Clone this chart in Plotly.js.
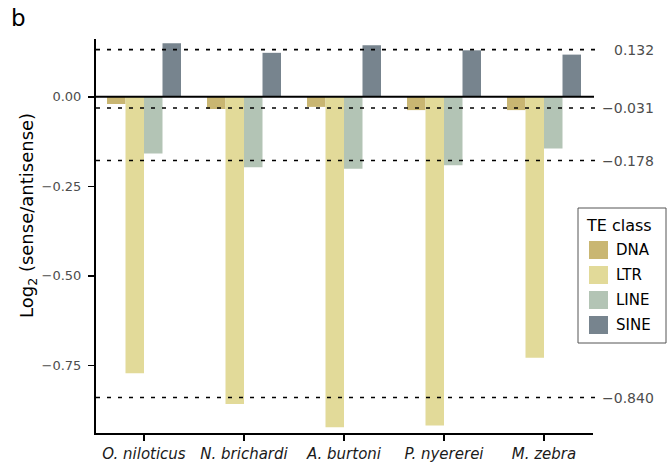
<!DOCTYPE html>
<html>
<head>
<meta charset="utf-8">
<script src="https://cdn.plot.ly/plotly-3.0.1.min.js"></script>
<style>
html,body{margin:0;padding:0;background:#fff;}
#chart{width:667px;height:468px;}
</style>
</head>
<body>
<div id="chart"></div>
<script>
// ---- data ----
const species = ["O. niloticus", "N. brichardi", "A. burtoni", "P. nyererei", "M. zebra"];
const teClasses = ["DNA", "LTR", "LINE", "SINE"];
const dnaValues  = [-0.020, -0.034, -0.028, -0.037, -0.037];
const ltrValues  = [-0.772, -0.858, -0.923, -0.918, -0.729];
const lineValues = [-0.158, -0.197, -0.201, -0.191, -0.144];
const sineValues = [0.150, 0.123, 0.144, 0.130, 0.118];
const meanValues = [0.132, -0.031, -0.178, -0.840];
const yTickValues = [0, -0.25, -0.5, -0.75];

const seriesValues = [dnaValues, ltrValues, lineValues, sineValues];
const classColors = ["#c9b672", "#e2da99", "#b3c4b5", "#77848e"];

const FONT = "DejaVu Sans, sans-serif";
const fmtMinus = (v, d) => (v < 0 ? "\u2212" : "") + Math.abs(v).toFixed(d);

// panel geometry (px) used to convert legend placement to paper coords
const M = {l: 96, r: 74, t: 39, b: 35};
const W = 667, H = 468;
const PW = W - M.l - M.r, PH = H - M.t - M.b;
const px = x => (x - M.l) / PW;
const py = y => (H - M.b - y) / PH;

const traces = teClasses.map((cls, i) => ({
  type: "bar",
  name: cls,
  x: species,
  y: seriesValues[i],
  marker: {color: classColors[i], line: {width: 0}},
  showlegend: false,
  hoverinfo: "x+y+name"
}));

const shapes = [];
// zero line
shapes.push({type: "line", xref: "paper", yref: "y", x0: 0, x1: 1.002, y0: 0, y1: 0,
  line: {color: "#000", width: 2}, layer: "above"});
meanValues.forEach(v => {
  shapes.push({type: "line", xref: "paper", yref: "y", x0: 0, x1: 1.004, y0: v, y1: v,
    line: {color: "#000", width: 1.6, dash: "4px,7px"}, layer: "above"});
});

const annotations = meanValues.map(v => ({
  xref: "paper", yref: "y", x: 1.127, y: v, xanchor: "right", yanchor: "middle",
  text: fmtMinus(v, 3), showarrow: false,
  font: {family: FONT, size: 14, color: "#4d4d4d"}
}));
annotations.push({
  xref: "paper", yref: "paper", x: -0.175, y: 1.092, xanchor: "left", yanchor: "top",
  text: "b", showarrow: false, font: {family: FONT, size: 23, color: "#000"}
});
// y-axis title
annotations.push({
  xref: "paper", yref: "paper", x: px(28), y: py(216), xanchor: "center", yanchor: "middle",
  textangle: -90, text: "Log<sub>2</sub> (sense/antisense)", showarrow: false,
  font: {family: FONT, size: 18, color: "#000"}
});

// ---- legend (drawn box) ----
shapes.push({type: "rect", xref: "paper", yref: "paper",
  x0: px(578), x1: px(666), y0: py(208), y1: py(343),
  line: {color: "#555", width: 1}, fillcolor: "#fff", layer: "above"});
annotations.push({
  xref: "paper", yref: "paper", x: px(584), y: py(225), xanchor: "left", yanchor: "middle",
  text: "TE class", showarrow: false, font: {family: FONT, size: 16, color: "#000"}
});
teClasses.forEach((cls, i) => {
  const cy = 250 + 25 * i;
  shapes.push({type: "rect", xref: "paper", yref: "paper",
    x0: px(589), x1: px(608), y0: py(cy + 9), y1: py(cy - 9),
    line: {width: 0}, fillcolor: classColors[i], layer: "above"});
  annotations.push({
    xref: "paper", yref: "paper", x: px(614), y: py(cy), xanchor: "left", yanchor: "middle",
    text: cls, showarrow: false, font: {family: FONT, size: 15, color: "#000"}
  });
});

const layout = {
  width: W, height: H,
  margin: {l: M.l, r: M.r, t: M.t, b: M.b, pad: 0},
  paper_bgcolor: "#fff", plot_bgcolor: "#fff",
  barmode: "group", bargap: 0.26, bargroupgap: 0,
  font: {family: FONT, color: "#000"},
  showlegend: false,
  xaxis: {
    type: "category", range: [-0.48, 4.49],
    showline: true, linecolor: "#000", linewidth: 2,
    ticks: "outside", ticklen: 6, tickwidth: 1.5, tickcolor: "#000",
    showgrid: false, zeroline: false,
    tickfont: {family: FONT, size: 15, color: "#1a1a1a", style: "italic"},
    fixedrange: true
  },
  yaxis: {
    range: [-0.939, 0.1616],
    tickvals: yTickValues,
    ticktext: yTickValues.map(v => fmtMinus(v, 2)),
    showline: true, linecolor: "#000", linewidth: 2,
    ticks: "outside", ticklen: 6, tickwidth: 1.5, tickcolor: "#000",
    ticklabelstandoff: 4,
    showgrid: false, zeroline: false,
    tickfont: {family: FONT, size: 13, color: "#4d4d4d"},
    automargin: false,
    fixedrange: true
  },
  shapes: shapes,
  annotations: annotations
};

Plotly.newPlot("chart", traces, layout, {displayModeBar: false, staticPlot: true});
</script>
</body>
</html>
